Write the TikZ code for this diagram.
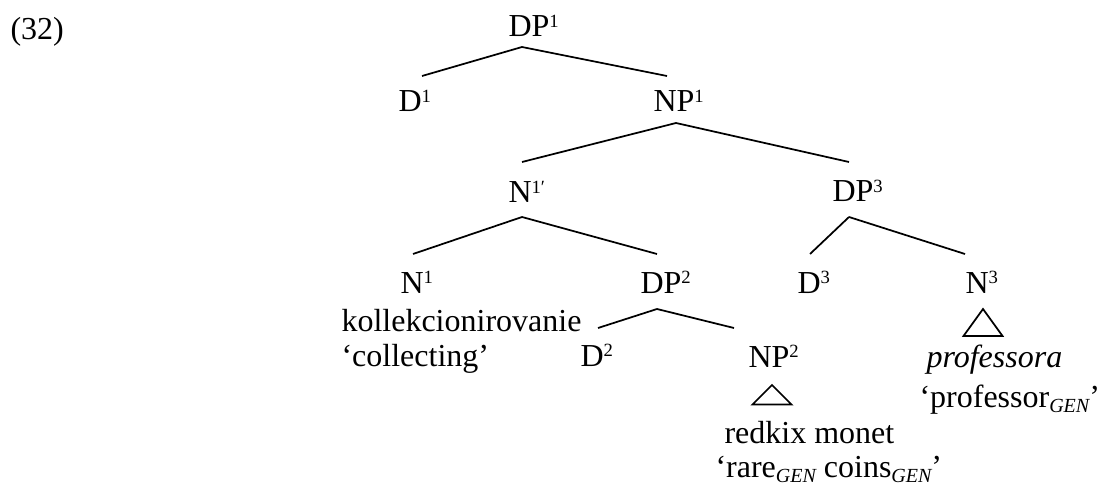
\documentclass[tikz,border=0pt]{standalone}
\usepackage{fontspec}
\setmainfont{Liberation Serif}
\tikzset{
  cat/.style={anchor=base west, inner sep=0pt, font=\fontsize{12}{14}\selectfont},
  branch/.style={black, line width=0.65pt},
}
\newcommand{\catsup}[1]{\raisebox{3.4pt}{\fontsize{7}{8}\selectfont #1}}
\newcommand{\gencase}{\raisebox{-2pt}{\fontsize{7.5}{8}\selectfont\itshape GEN}}

\begin{document}
\begin{tikzpicture}[x=0.375pt, y=-0.375pt]
  \useasboundingbox (0,0) rectangle (1101,484);
  \node[cat] (ex) at (10,40) {(32)};
  % categories
  \node[cat] (dp1) at (508,37) {DP\catsup{1}};
  \node[cat] (d1) at (398,112) {D\catsup{1}};
  \node[cat] (np1) at (653,112) {NP\catsup{1}};
  \node[cat] (n1bar) at (508,203) {N\catsup{1′}};
  \node[cat] (dp3) at (832,202) {DP\catsup{3}};
  \node[cat] (n1) at (400,293) {N\catsup{1}};
  \node[cat] (dp2) at (640,293) {DP\catsup{2}};
  \node[cat] (d3) at (797,293) {D\catsup{3}};
  \node[cat] (n3) at (965,293) {N\catsup{3}};
  \node[cat] (d2) at (580,366) {D\catsup{2}};
  \node[cat] (np2) at (748,367) {NP\catsup{2}};
  % words and glosses
  \node[cat] (kol) at (341,331) {kollekcionirovanie};
  \node[cat] (kolgl) at (341,366) {`collecting'};
  \node[cat] (red) at (724,443) {redkix monet};
  \node[cat] (redgl) at (715,477) {`rare\gencase{} coins\gencase'};
  \node[cat] (prof) at (926,367) {\itshape professora};
  \node[cat] (profgl) at (919,407) {`professor\gencase'};
  % branch ends
  \coordinate (dp1-b) at (522,47);
  \coordinate (d1-t) at (422,76);
  \coordinate (np1-t) at (667,76);
  \coordinate (np1-b) at (676,123);
  \coordinate (n1bar-t) at (522,162);
  \coordinate (dp3-t) at (849,162);
  \coordinate (n1bar-b) at (522,217);
  \coordinate (n1-t) at (413,254);
  \coordinate (dp2-t) at (657,254);
  \coordinate (dp3-b) at (849,217);
  \coordinate (d3-t) at (810,254);
  \coordinate (n3-t) at (965,254);
  \coordinate (dp2-b) at (657,309);
  \coordinate (d2-t) at (598,328);
  \coordinate (np2-t) at (734,328);
  \foreach \p/\c in {dp1-b/d1-t, dp1-b/np1-t, np1-b/n1bar-t, np1-b/dp3-t,
                     n1bar-b/n1-t, n1bar-b/dp2-t, dp3-b/d3-t, dp3-b/n3-t,
                     dp2-b/d2-t, dp2-b/np2-t}
    \draw[branch] (\p) -- (\c);
  % triangles
  \coordinate (np2-tri) at (772,385);
  \coordinate (n3-tri) at (983,309);
  \draw[branch, line join=miter] (np2-tri) -- ++(-19.5,19.5) -- ++(39,0) -- cycle;
  \draw[branch, line join=miter] (n3-tri) -- ++(-19.5,27) -- ++(39,0) -- cycle;
\end{tikzpicture}
\end{document}
